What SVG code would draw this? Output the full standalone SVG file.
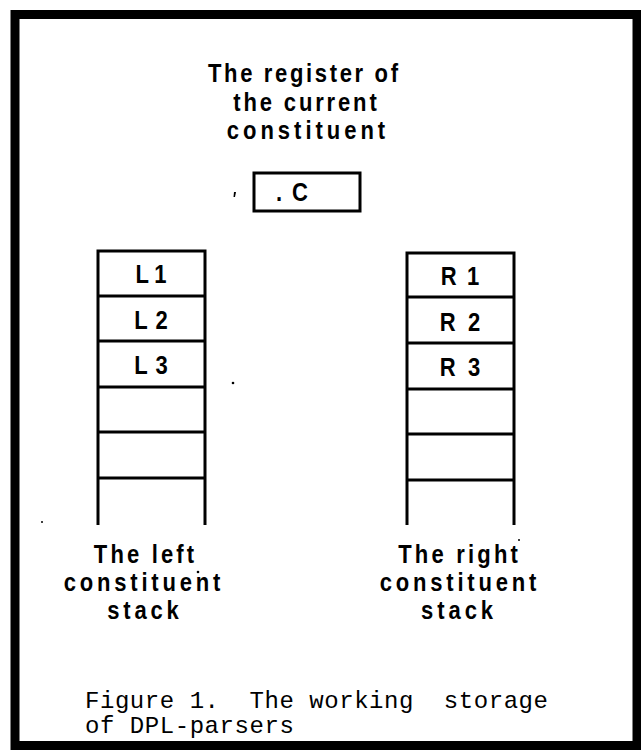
<svg xmlns="http://www.w3.org/2000/svg" width="641" height="750" viewBox="0 0 641 750">
  <style>
    .lbl { font-family: "Liberation Sans", Arial, sans-serif; font-weight: bold; font-size: 25px; fill: #000; text-anchor: middle; }
    .cap { font-family: "Liberation Mono", "Courier New", monospace; font-size: 24px; letter-spacing: 0.55px; fill: #000; }
    .box { fill: #fff; stroke: #000; stroke-width: 3; }
    .ln { stroke: #000; stroke-width: 3; fill: none; }
  </style>
  <rect x="0" y="0" width="641" height="750" fill="#fff"/>
  <rect x="15" y="14.5" width="622" height="731" fill="none" stroke="#000" stroke-width="9"/>

  <g id="register-title">
    <text class="lbl" transform="translate(303,82) scale(0.88,1)" textLength="216" lengthAdjust="spacing">The register of</text>
    <text class="lbl" transform="translate(305,111) scale(0.88,1)" textLength="163" lengthAdjust="spacing">the current</text>
    <text class="lbl" transform="translate(306,139) scale(0.88,1)" textLength="180" lengthAdjust="spacing">constituent</text>
  </g>

  <g id="register">
    <rect class="box" x="254" y="173" width="106" height="38"/>
    <text class="lbl" transform="translate(279,201) scale(0.88,1)">.</text>
    <text class="lbl" transform="translate(300,201) scale(0.88,1)">C</text>
  </g>

  <g id="left-stack">
    <path class="ln" d="M98,525 V251 H205 V525 M98,296 H205 M98,341 H205 M98,387 H205 M98,432 H205 M98,478 H205"/>
    <text class="lbl" transform="translate(151,283) scale(0.88,1)" textLength="35" lengthAdjust="spacing">L1</text>
    <text class="lbl" transform="translate(151,329) scale(0.88,1)" textLength="38" lengthAdjust="spacing">L2</text>
    <text class="lbl" transform="translate(151,374) scale(0.88,1)" textLength="38" lengthAdjust="spacing">L3</text>
  </g>

  <g id="right-stack">
    <path class="ln" d="M407,525 V253 H514 V525 M407,297 H514 M407,343 H514 M407,389 H514 M407,434 H514 M407,480 H514"/>
    <text class="lbl" transform="translate(460,285) scale(0.88,1)" textLength="44" lengthAdjust="spacing">R1</text>
    <text class="lbl" transform="translate(460,331) scale(0.88,1)" textLength="46" lengthAdjust="spacing">R2</text>
    <text class="lbl" transform="translate(460,376) scale(0.88,1)" textLength="46" lengthAdjust="spacing">R3</text>
  </g>

  <g id="left-label">
    <text class="lbl" transform="translate(144,563) scale(0.88,1)" textLength="114" lengthAdjust="spacing">The left</text>
    <text class="lbl" transform="translate(142,591) scale(0.88,1)" textLength="178" lengthAdjust="spacing">constituent</text>
    <text class="lbl" transform="translate(143,619) scale(0.88,1)" textLength="81" lengthAdjust="spacing">stack</text>
  </g>

  <g id="right-label">
    <text class="lbl" transform="translate(458,563) scale(0.88,1)" textLength="136" lengthAdjust="spacing">The right</text>
    <text class="lbl" transform="translate(458,591) scale(0.88,1)" textLength="178" lengthAdjust="spacing">constituent</text>
    <text class="lbl" transform="translate(457,619) scale(0.88,1)" textLength="82" lengthAdjust="spacing">stack</text>
  </g>

  <g id="caption">
    <text class="cap" x="85" y="708" xml:space="preserve">Figure 1.  The working  storage</text>
    <text class="cap" x="85" y="733">of DPL-parsers</text>
  </g>

  <g id="specks" fill="#000">
    <path d="M234,192 l2,0 l-1,5 l-1.5,0 z"/>
    <circle cx="233" cy="383" r="1.3"/>
    <circle cx="42" cy="522" r="1"/>
    <circle cx="198" cy="572" r="1.3"/>
    <circle cx="519" cy="540" r="1"/>
  </g>

  <g id="connectors"/>
</svg>
